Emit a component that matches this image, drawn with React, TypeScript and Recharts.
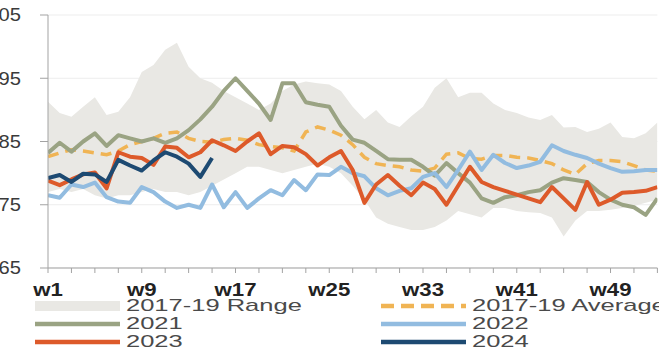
import React from 'react';
import { ComposedChart, Area, Line, XAxis, YAxis, CartesianGrid } from 'recharts';

// ---- categories (ISO weeks) ----
const WEEKS = [
  1, 2, 3, 4, 5, 6, 7, 8, 9, 10, 11, 12, 13, 14, 15, 16, 17, 18, 19, 20, 21, 22, 23, 24, 25, 26,
  27, 28, 29, 30, 31, 32, 33, 34, 35, 36, 37, 38, 39, 40, 41, 42, 43, 44, 45, 46, 47, 48, 49, 50,
  51, 52, 53,
];

// ---- 2017-19 range (low / high) ----
const RANGE_LOW = [
  77, 77.5, 77, 77.5, 76.5, 76, 76.5, 76.5, 77, 77.5, 77, 77, 76.5, 77, 78, 79, 80, 81, 81, 80.5,
  80, 80.5, 81, 81.5, 81, 80, 78, 75.8, 73, 72, 71.5, 71, 71, 71.5, 72.5, 74, 73.5, 73, 74.5, 74.5,
  74, 73.8, 73.7, 73, 70, 72.5, 74, 74, 74.2, 74.5, 74.8, 75.3, 75.8,
];
const RANGE_HIGH = [
  91.3, 89.5, 88.9, 90.5, 92, 89.2, 89.7, 92, 96, 97.1, 99.5, 100.6, 96.8, 95, 94.3, 93, 92, 91, 90,
  91, 93, 94, 94.5, 94.2, 94, 93, 90.5, 88.5, 90, 88, 87.3, 89, 90.5, 93.5, 95, 92, 92.7, 92.7, 91,
  90, 89.5, 88.8, 88.4, 89.2, 87.2, 87.3, 86.5, 87, 88, 85.7, 85.5, 86.3, 88,
];

// ---- 2017-19 average ----
const AVG_1719 = [
  82.6, 83.2, 83.7, 83.5, 83.2, 82.9, 83.5, 84.5, 85, 85.5, 86.3, 86.5, 85.5, 85, 84.9, 85.3, 85.5,
  85.2, 84.5, 84.2, 84, 83.5, 86.5, 87.3, 86.8, 86, 84.5, 82.5, 81.5, 81.2, 81, 80.5, 80.3, 80.8, 83,
  83.2, 82.3, 82.2, 82.8, 82.8, 82.5, 82.4, 82, 81.5, 80.5, 79.8, 81.5, 82, 82, 81.8, 81.2, 80.5, 80.3,
];

// ---- yearly series ----
const Y2021 = [
  83.2, 84.8, 83.4, 85, 86.3, 84.3, 86, 85.5, 85, 85.5, 84.8, 85.5, 86.8, 88.5, 90.5, 93, 95, 93, 91,
  88.4, 94.2, 94.2, 91.2, 90.8, 90.5, 87.5, 85.3, 84.8, 83.5, 82.2, 82.1, 82.1, 81, 79.6, 81.6, 80,
  78.5, 76, 75.3, 76.2, 76.5, 77, 77.3, 78.5, 79.2, 78.9, 78.6, 77, 75.8, 75, 74.6, 73.4, 76,
];
const Y2022 = [
  76.5, 76.1, 78.2, 77.8, 78.5, 76.2, 75.5, 75.3, 77.8, 77, 75.5, 74.5, 75, 74.5, 78.2, 74.6, 77, 74.5,
  76, 77.3, 76.5, 78.9, 77.3, 79.8, 79.7, 81, 80, 79.5, 77.6, 76.5, 77.2, 77.6, 79.4, 80, 77.8, 80.5,
  83.4, 80.5, 82.9, 81.6, 80.8, 81.2, 81.8, 84.4, 83.5, 82.9, 82.4, 81.5, 80.8, 80.2, 80.3, 80.5, 80.5,
];
const Y2023 = [
  78.8, 78.1, 79, 79.8, 80.1, 77.6, 83.3, 82.6, 82.4, 81.3, 84.2, 84, 82.5, 83.3, 85.2, 84.4, 83.5,
  85, 86.3, 83, 84.3, 84.1, 83, 81.2, 82.5, 83.5, 80.5, 75.3, 78.2, 79.7, 78, 76.5, 78.5, 77.5, 75,
  78, 81, 78.6, 77.8, 77.2, 76.6, 76, 75.4, 77.8, 76, 74.2, 78.6, 75, 75.8, 76.9, 77, 77.2, 77.8,
];
const Y2024 = [79.2, 79.7, 78.6, 79.9, 79.8, 78.6, 82.1, 81.2, 80.4, 82, 83.3, 82.6, 81.5, 79.4, 82.4];

// ---- axis ticks / labels ----
const X_TICKS = [1, 3, 5, 7, 9, 11, 13, 15, 17, 19, 21, 23, 25, 27, 29, 31, 33, 35, 37, 39, 41, 43, 45, 47, 49, 51, 53];
const X_LABEL_WEEKS = [1, 9, 17, 25, 33, 41, 49];
const X_LABELS = ['w1', 'w9', 'w17', 'w25', 'w33', 'w41', 'w49'];
const Y_TICKS = [65, 75, 85, 95, 105];

// ---- legend ----
const LEGEND_LABELS = ['2017-19 Range', '2017-19 Average', '2021', '2022', '2023', '2024'];

const COLORS = {
  range: '#e9e8e4',
  avg: '#f0b454',
  y2021: '#9aa383',
  y2022: '#92bce0',
  y2023: '#dd5a2a',
  y2024: '#1d4a72',
};

const data = WEEKS.map((w, i) => ({
  week: w,
  range: [RANGE_LOW[i], RANGE_HIGH[i]],
  avg: AVG_1719[i],
  y2021: Y2021[i],
  y2022: Y2022[i],
  y2023: Y2023[i],
  y2024: i < Y2024.length ? Y2024[i] : null,
}));

const FONT = '"Liberation Sans", Arial, Helvetica, sans-serif';

const XTick = (props: any) => {
  const { x, y, payload } = props;
  const idx = X_LABEL_WEEKS.indexOf(payload.value);
  if (idx < 0) return <g />;
  return (
    <g transform={`translate(${x},${y}) scale(1.2,1)`}>
      <text x={0} y={0} dy={21} textAnchor="middle" fontSize={18.5} fontWeight="bold" fill="#222" fontFamily={FONT}>
        {X_LABELS[idx]}
      </text>
    </g>
  );
};

const YTick = (props: any) => {
  const { x, y, payload } = props;
  return (
    <g transform={`translate(${x},${y}) scale(1.12,1)`}>
      <text x={0} y={0} dy="0.36em" textAnchor="end" fontSize={18} fill="#3a3a3a" fontFamily={FONT}>
        {payload.value}
      </text>
    </g>
  );
};

type LegendItem = { label: string; kind: 'area' | 'line' | 'dash'; color: string; col: number; row: number };
const LEGEND_ITEMS: LegendItem[] = [
  { label: LEGEND_LABELS[0], kind: 'area', color: COLORS.range, col: 0, row: 0 },
  { label: LEGEND_LABELS[1], kind: 'dash', color: COLORS.avg, col: 1, row: 0 },
  { label: LEGEND_LABELS[2], kind: 'line', color: COLORS.y2021, col: 0, row: 1 },
  { label: LEGEND_LABELS[3], kind: 'line', color: COLORS.y2022, col: 1, row: 1 },
  { label: LEGEND_LABELS[4], kind: 'line', color: COLORS.y2023, col: 0, row: 2 },
  { label: LEGEND_LABELS[5], kind: 'line', color: COLORS.y2024, col: 1, row: 2 },
];
const LEGEND_COL_X = [35, 381];
const LEGEND_ROW_Y = [306, 324, 342];

const Swatch = ({ item }: { item: LegendItem }) => (
  <svg width={85} height={12} style={{ display: 'block' }}>
    {item.kind === 'area' ? (
      <rect x={0} y={1} width={85} height={10} fill={item.color} />
    ) : (
      <line
        x1={0}
        x2={85}
        y1={6}
        y2={6}
        stroke={item.color}
        strokeWidth={4.5}
        strokeDasharray={item.kind === 'dash' ? '13 7' : undefined}
      />
    )}
  </svg>
);

export default function App() {
  return (
    <div style={{ position: 'absolute', left: 0, top: 0, width: 659, height: 351, overflow: 'hidden', background: '#fff' }}>
      <div style={{ position: 'absolute', left: -30, top: 0 }}>
        <ComposedChart width={720} height={351} data={data} margin={{ top: 15, right: 32.6, bottom: 53, left: 18 }}>
          <CartesianGrid vertical={false} stroke="#ededed" />
          <XAxis
            type="number"
            dataKey="week"
            domain={[1, 53]}
            ticks={X_TICKS}
            interval={0}
            tickSize={5}
            tickMargin={2}
            height={30}
            stroke="#a3a3a3"
            tick={<XTick />}
            allowDataOverflow
          />
          <YAxis
            type="number"
            domain={[65, 105]}
            ticks={Y_TICKS}
            interval={0}
            width={60}
            tickSize={8}
            tickMargin={19}
            stroke="#a3a3a3"
            tick={<YTick />}
            allowDataOverflow
          />
          <Area dataKey="range" type="linear" fill={COLORS.range} fillOpacity={1} stroke="none" isAnimationActive={false} />
          <Line dataKey="avg" type="linear" stroke={COLORS.avg} strokeWidth={3.5} strokeDasharray="11 7" dot={false} isAnimationActive={false} />
          <Line dataKey="y2021" type="linear" stroke={COLORS.y2021} strokeWidth={4} dot={false} strokeLinejoin="round" isAnimationActive={false} />
          <Line dataKey="y2022" type="linear" stroke={COLORS.y2022} strokeWidth={4} dot={false} strokeLinejoin="round" isAnimationActive={false} />
          <Line dataKey="y2023" type="linear" stroke={COLORS.y2023} strokeWidth={4} dot={false} strokeLinejoin="round" isAnimationActive={false} />
          <Line dataKey="y2024" type="linear" stroke={COLORS.y2024} strokeWidth={4} dot={false} strokeLinejoin="round" isAnimationActive={false} />
        </ComposedChart>
      </div>
      {LEGEND_ITEMS.map((item) => (
        <div
          key={item.label}
          style={{
            position: 'absolute',
            left: LEGEND_COL_X[item.col],
            top: LEGEND_ROW_Y[item.row] - 10,
            height: 20,
            display: 'flex',
            alignItems: 'center',
            whiteSpace: 'nowrap',
          }}
        >
          <Swatch item={item} />
          <span
            style={{
              display: 'inline-block',
              marginLeft: 6,
              fontFamily: FONT,
              fontSize: 17,
              lineHeight: '18px',
              color: '#4a4a4a',
              transform: 'scaleX(1.5)',
              transformOrigin: 'left center',
            }}
          >
            {item.label}
          </span>
        </div>
      ))}
    </div>
  );
}
